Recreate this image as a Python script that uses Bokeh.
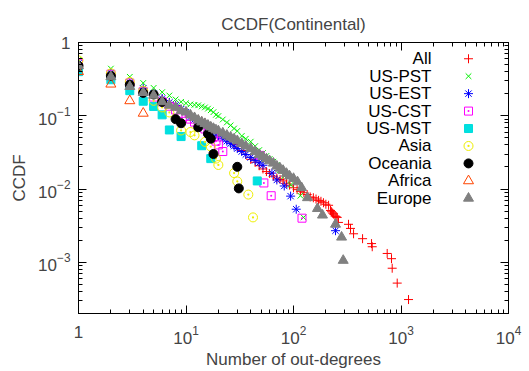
from bokeh.plotting import figure
from bokeh.models import LogAxis, LogTicker, Range1d, LinearScale, CustomJSTickFormatter
from bokeh.core.properties import value
from bokeh.embed import file_html
from bokeh.resources import INLINE

# ---------------- data ----------------
series_names = ["All", "US-PST", "US-EST", "US-CST", "US-MST", "Asia", "Oceania", "Africa", "Europe"]

all_x = [1, 2, 3, 4, 5, 6, 7, 8, 9, 10, 11, 12, 13, 14, 15, 16, 17, 18, 19, 20,
         22, 24, 26, 28, 30, 33, 36, 40, 44, 48, 52, 56, 60, 65, 70, 75, 80, 86, 92, 100,
         108, 116, 125, 134, 143, 153, 162, 171, 180, 190, 200, 212,
         221, 226, 231, 236, 243, 249, 255, 262, 325, 339, 362, 439, 532, 540,
         744, 816, 828, 922, 1175]
all_y = [0.49, 0.35, 0.265, 0.22, 0.195, 0.167, 0.15, 0.137, 0.123, 0.112, 0.1035, 0.096, 0.089, 0.085, 0.080, 0.075, 0.070, 0.066, 0.0612, 0.058,
         0.0534, 0.0486, 0.045, 0.041, 0.0379, 0.0335, 0.0296, 0.0254, 0.0232, 0.0208, 0.0188, 0.0173, 0.0163, 0.0150, 0.0141, 0.0135, 0.0129, 0.0120, 0.0113, 0.0104,
         0.0098, 0.0093, 0.0089, 0.0084, 0.0078, 0.0076, 0.0073, 0.0070, 0.0068, 0.0065, 0.0062, 0.0060,
         0.0051, 0.0049, 0.0047, 0.00455, 0.0043, 0.0042, 0.0041, 0.0035, 0.0033, 0.0029, 0.00245, 0.0021, 0.0018, 0.00163,
         0.00132, 0.00112, 0.00083, 0.00052, 0.00031]

pst_x = [1, 2, 3, 4, 5, 6, 7, 8, 9, 10, 11, 12, 13, 14, 15, 16, 17, 18, 19, 20,
         22, 24, 26, 28, 30, 33, 36, 40, 44, 48, 52, 56, 60, 65, 70, 75, 82, 94, 116, 124]
pst_y = [0.58, 0.44, 0.34, 0.28, 0.24, 0.21, 0.189, 0.167, 0.155, 0.148, 0.143, 0.141, 0.139, 0.134, 0.130, 0.125, 0.119, 0.112, 0.103, 0.099,
         0.089, 0.081, 0.074, 0.067, 0.062, 0.053, 0.0486, 0.0443, 0.0385, 0.034, 0.031, 0.0283, 0.0257, 0.0236, 0.0212, 0.0181, 0.0150, 0.0114, 0.0081, 0.0041]

est_x = [1, 2, 3, 4, 5, 6, 7, 8, 9, 10, 11, 12, 13, 14, 15, 16, 17, 18, 19, 20,
         22, 24, 26, 28, 30, 33, 36, 40, 44, 48, 52, 63, 70, 82, 94, 106, 246]
est_y = [0.52, 0.38, 0.28, 0.235, 0.2, 0.172, 0.152, 0.139, 0.123, 0.112, 0.096, 0.089, 0.081, 0.077, 0.073, 0.068, 0.064, 0.060, 0.057, 0.053,
         0.0486, 0.045, 0.0417, 0.0385, 0.0357, 0.0325, 0.0296, 0.0270, 0.0246, 0.0228, 0.0211, 0.0165, 0.0133, 0.0110, 0.0080, 0.0053, 0.0027]

cst_x = [1, 2, 3, 4, 5, 6, 7, 8, 9, 10, 11, 12, 13, 15, 16, 18, 19, 20, 22, 49, 53, 62, 120]
cst_y = [0.52, 0.37, 0.28, 0.215, 0.18, 0.155, 0.135, 0.12, 0.108, 0.098, 0.09, 0.082, 0.075, 0.066, 0.060, 0.052, 0.045, 0.040, 0.0325, 0.0288, 0.0121, 0.0081, 0.0040]

mst_x = [1, 2, 3, 4, 5, 6, 7, 9, 14, 17, 46]
mst_y = [0.40, 0.31, 0.22, 0.158, 0.134, 0.103, 0.064, 0.052, 0.039, 0.026, 0.0129]

asia_x = [1, 2, 3, 4, 5, 6, 7, 9, 11, 12, 15, 17, 19, 20, 28, 30, 38, 42]
asia_y = [0.57, 0.38, 0.29, 0.22, 0.16, 0.13, 0.111, 0.063, 0.060, 0.054, 0.044, 0.038, 0.026, 0.0213, 0.0165, 0.0127, 0.0084, 0.0041]

oceania_x = [1, 2, 3, 4, 5, 6, 8, 9, 13, 16, 17, 18, 30, 31]
oceania_y = [0.48, 0.35, 0.265, 0.205, 0.195, 0.154, 0.090, 0.079, 0.0697, 0.0567, 0.0486, 0.0301, 0.0201, 0.0102]

africa_x = [1, 2, 3, 4]
africa_y = [0.40, 0.27, 0.16, 0.108]

europe_x = [1, 2, 3, 4, 5, 6, 7, 8, 9, 10, 11, 12, 13, 14, 15, 16, 17, 18, 19, 20,
            22, 24, 26, 28, 30, 33, 36, 40, 44, 48, 52, 56, 60, 65, 70, 75, 80, 86, 92, 100,
            109, 119, 135, 167, 186, 246, 280, 290]
europe_y = [0.48, 0.34, 0.25, 0.207, 0.19, 0.155, 0.139, 0.130, 0.117, 0.112, 0.102, 0.094, 0.087, 0.082, 0.078, 0.074, 0.070, 0.067, 0.064, 0.062,
            0.058, 0.054, 0.051, 0.048, 0.0456, 0.0417, 0.0385, 0.0357, 0.0325, 0.0296, 0.0275, 0.0257, 0.0242, 0.0225, 0.0205, 0.0192, 0.0179, 0.0163, 0.0150, 0.0139,
            0.0125, 0.0104, 0.0076, 0.0054, 0.0044, 0.0033, 0.0022, 0.00106]

title_text = "CCDF(Continental)"
x_label = "Number of out-degrees"
y_label = "CCDF"

# ---------------- styling ----------------
FONT = "Liberation Sans"
styles = [
    dict(marker="cross", line_color="#ff0000", fill_color=None, size=9),
    dict(marker="x", line_color="#00f000", fill_color=None, size=8),
    dict(marker="asterisk", line_color="#0000ff", fill_color=None, size=9),
    dict(marker="square_dot", line_color="#ff00ff", fill_color=None, size=8),
    dict(marker="square", line_color="#00dddd", fill_color="#00e0e0", size=8),
    dict(marker="circle_dot", line_color="#eeee00", fill_color=None, size=9),
    dict(marker="circle", line_color="#000000", fill_color="#000000", size=9),
    dict(marker="triangle", line_color="#ff4500", fill_color=None, size=10),
    dict(marker="triangle", line_color="#808080", fill_color="#808080", size=10),
]
data = [(all_x, all_y), (pst_x, pst_y), (est_x, est_y), (cst_x, cst_y), (mst_x, mst_y),
        (asia_x, asia_y), (oceania_x, oceania_y), (africa_x, africa_y), (europe_x, europe_y)]

FL, FR, FT, FB = 78, 508, 42, 317   # frame edges in canvas pixels

p = figure(width=529, height=371, x_axis_type="log", y_axis_type="log",
           x_range=Range1d(1, 1e4), y_range=Range1d(2e-4, 1),
           output_backend="svg", toolbar_location=None,
           min_border_left=FL, min_border_right=529 - FR, min_border_top=FT, min_border_bottom=371 - FB,
           title=title_text)
p.background_fill_color = "white"
p.border_fill_color = "white"
p.outline_line_color = "black"
p.outline_line_width = 1
p.grid.visible = False

p.title.text_font = FONT
p.title.text_font_size = "17px"
p.title.text_font_style = "normal"
p.title.align = "center"
p.title.offset = -10
p.title.standoff = 17

for ax in (p.xaxis[0], p.yaxis[0]):
    ax.ticker.num_minor_ticks = 10
    ax.axis_line_color = "black"
    ax.major_tick_in = 8
    ax.major_tick_out = 0
    ax.minor_tick_in = 4
    ax.minor_tick_out = 0
    ax.major_label_text_font = FONT
    ax.major_label_text_font_size = "17px"
    ax.axis_label_text_font = FONT
    ax.axis_label_text_font_size = "17px"
    ax.axis_label_text_font_style = "normal"
    ax.major_label_overrides = {1: "1"}

p.xaxis.axis_label = x_label
p.yaxis.axis_label = y_label
p.xaxis.major_label_standoff = 12
p.xaxis.axis_label_standoff = 3
p.yaxis.major_label_standoff = 8
p.yaxis.axis_label_standoff = 6

# mirrored ticks on top and right (gnuplot style border ticks)
for loc in ("above", "right"):
    ax = LogAxis(ticker=LogTicker(num_minor_ticks=10),
                 formatter=CustomJSTickFormatter(code="return ''"),
                 major_tick_in=8, major_tick_out=0, minor_tick_in=4, minor_tick_out=0,
                 major_label_standoff=0, major_label_text_font_size="1px",
                 axis_line_color="black")
    p.add_layout(ax, loc)

for (xs, ys), st in zip(data, styles):
    p.scatter(xs, ys, marker=st["marker"], size=st["size"], line_color=st["line_color"],
              fill_color=st["fill_color"], line_width=1)

# pixel-like coordinate system matching the frame (for the legend)
p.extra_x_ranges = {"px": Range1d(FL, FR)}
p.extra_y_ranges = {"py": Range1d(FB, FT)}
p.extra_x_scales = {"px": LinearScale()}
p.extra_y_scales = {"py": LinearScale()}

rows = [58.5 + 17.7 * i for i in range(len(series_names))]
p.text(x=[431] * len(series_names), y=rows, text=series_names,
       x_range_name="px", y_range_name="py",
       text_align="right", text_baseline="middle",
       text_font=value(FONT), text_font_size="17px", text_color="black")
for r, st in zip(rows, styles):
    p.scatter([468], [r], marker=st["marker"], size=st["size"], line_color=st["line_color"],
              fill_color=st["fill_color"], line_width=1, x_range_name="px", y_range_name="py")

open("out.html", "w").write(file_html(p, INLINE))
